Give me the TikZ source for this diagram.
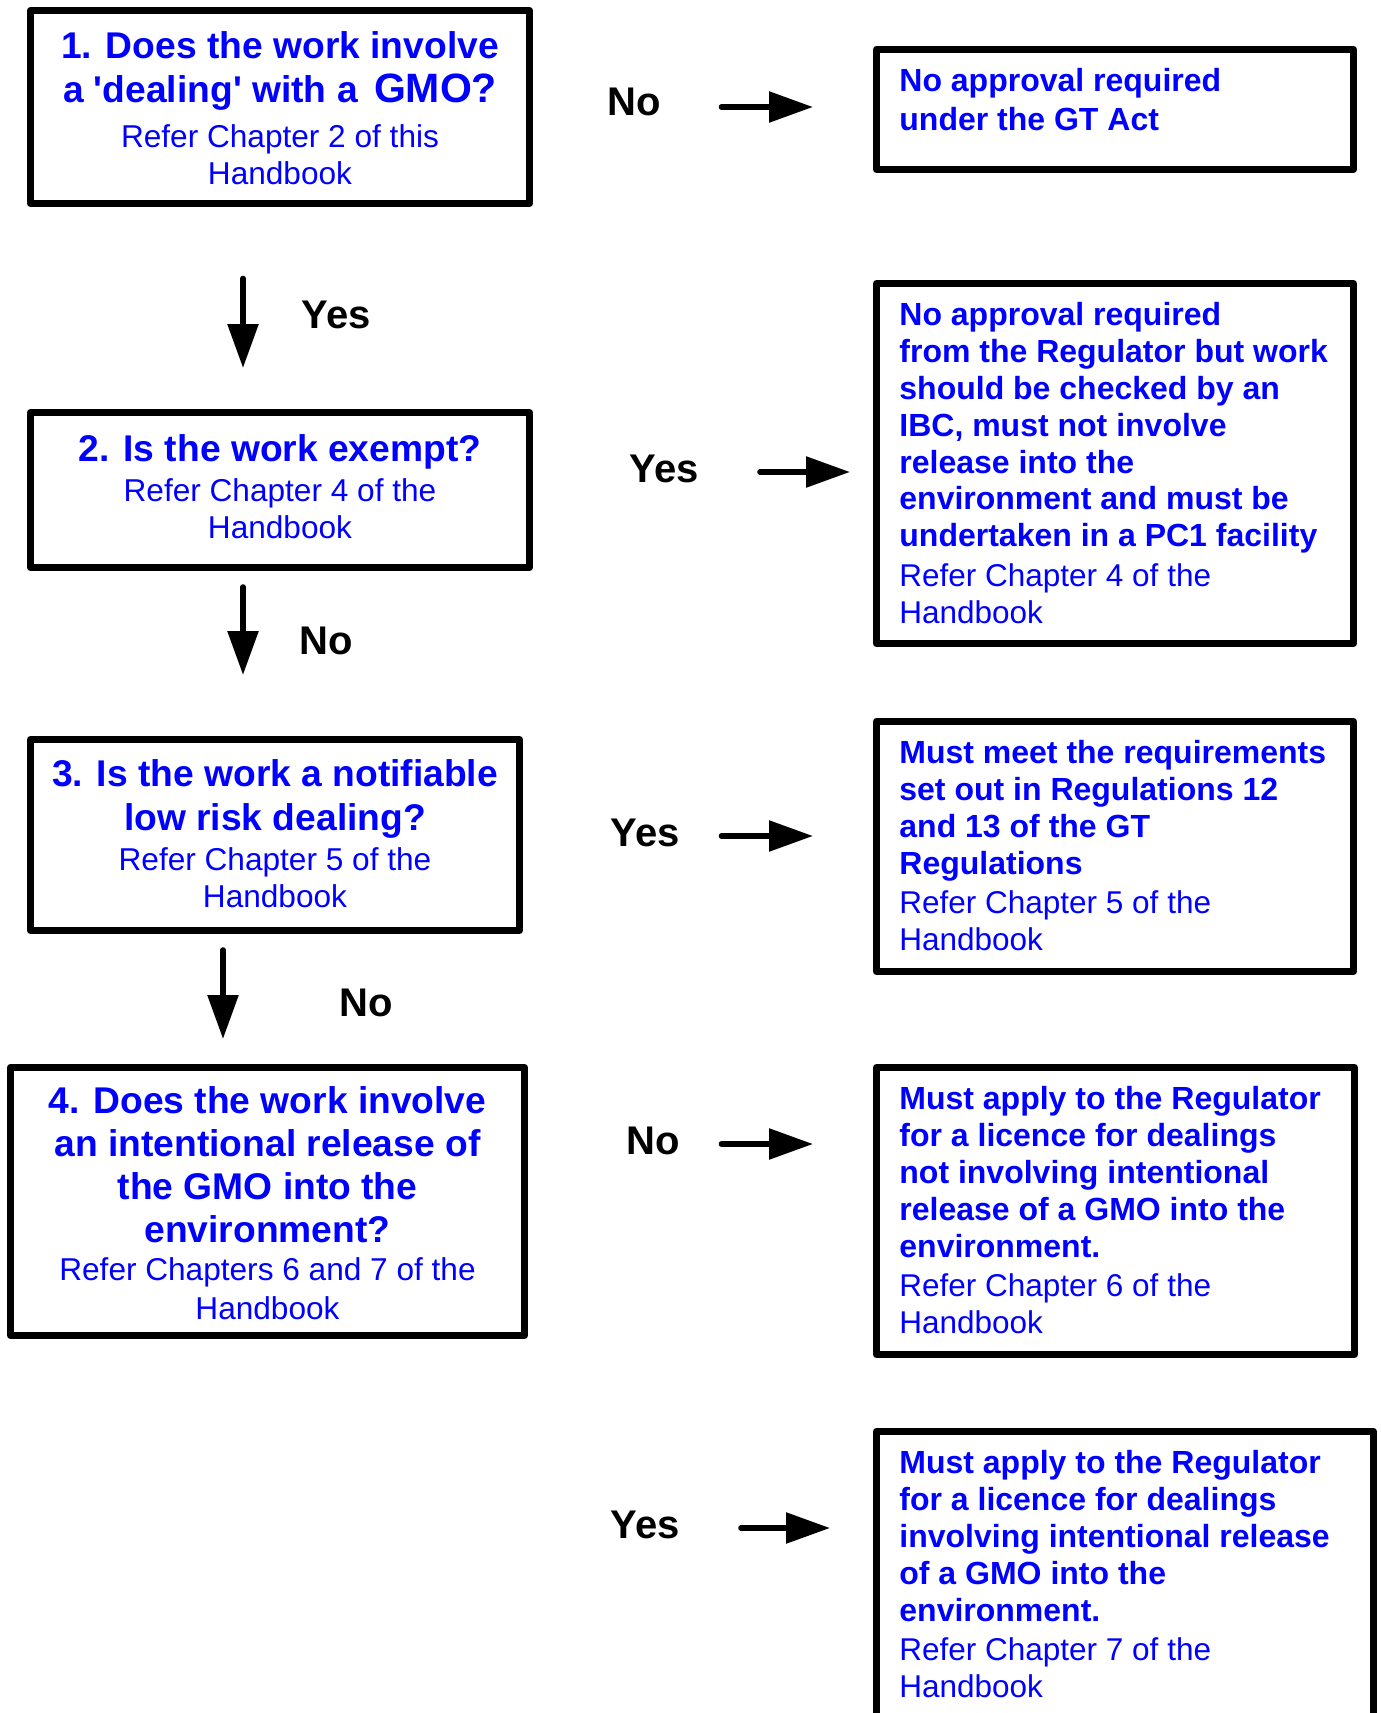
\documentclass[tikz,border=0pt]{standalone}
\usepackage{fontspec}
\newfontfamily\lsans{Liberation Sans}
\usetikzlibrary{arrows.meta}
\definecolor{tblue}{RGB}{0,0,255}
\newcommand\qT[1]{{\fontsize{18.6pt}{0pt}\selectfont\bfseries\rule[-6pt]{0pt}{22pt}#1}}
\newcommand\qTb[1]{{\fontsize{18.6pt}{0pt}\selectfont\bfseries\rule[-6pt]{0pt}{21.6pt}#1}}
\newcommand\qN[1]{{\fontsize{15.8pt}{0pt}\selectfont\rule[-4.3pt]{0pt}{18.5pt}#1}}
\newcommand\rB[1]{{\fontsize{16pt}{0pt}\selectfont\bfseries\rule[-5.4pt]{0pt}{18.4pt}#1}}
\newcommand\rN[1]{{\fontsize{15.75pt}{0pt}\selectfont\rule[-4.2pt]{0pt}{18.5pt}#1}}
\tikzset{
  basefont/.style={font={\lsans\fontsize{10pt}{0pt}\selectfont\lineskip=0pt\lineskiplimit=0pt}},
  qbox/.style={basefont, draw=black, line width=3.5pt, line join=round, inner sep=0pt, align=center, text=tblue},
  rbox/.style={draw=black, line width=3.5pt, line join=round, inner sep=0pt},
  rtext/.style={basefont, inner sep=0pt, align=left, text=tblue, anchor=north west},
  lab/.style={font={\lsans\bfseries\fontsize{20pt}{24pt}\selectfont}, inner sep=0pt, text=black},
  arr/.style={line width=2.8pt, line cap=round, -{Triangle[length=22pt,width=15pt]}}
}
\begin{document}
\begin{tikzpicture}[x=0.5pt,y=-0.5pt]
\useasboundingbox (0,0) rectangle (1381,1713);
\clip (0,0) rectangle (1381,1713);
\fill[white] (0,0) rectangle (1381,1713);

% left question boxes
\node[qbox, minimum width=249.5pt, minimum height=96.5pt] (q1) at (280,107)
  {\qT{\rule{0pt}{18.8pt}1. Does the work involve}\\ \qT{a 'dealing' with a\hspace{3pt} {\fontsize{20.5pt}{0pt}\selectfont GMO?}}\\[2.2pt] \qN{Refer Chapter 2 of this}\\ \qN{Handbook}};
\node[qbox, minimum width=249.5pt, minimum height=77.5pt] (q2) at (280,490)
  {\qT{2. Is the work exempt?}\\ \qN{Refer Chapter 4 of the}\\ \qN{Handbook\rule[-5.9pt]{0pt}{0pt}}};
\node[qbox, minimum width=244.5pt, minimum height=95.5pt] (q3) at (275,835)
  {\qT{3. Is the work a notifiable}\\ \qT{low risk dealing?}\\ \qN{Refer Chapter 5 of the}\\ \qN{Handbook}};
\node[qbox, minimum width=257pt, minimum height=134pt] (q4) at (267.5,1201.5)
  {\qTb{\rule{0pt}{18.9pt}4. Does the work involve}\\ \qTb{an intentional release of}\\ \qTb{the GMO into the}\\ \qTb{environment?}\\[-1.1pt] \qN{Refer Chapters 6 and 7 of the}\\[0.55pt] \qN{Handbook}};

% right result boxes
\node[rbox, minimum width=238.5pt, minimum height=60pt] (r1) at (1115,109.5) {};
\node[rtext] (r1t) at (899,65.5) {\rB{No approval required}\\[1pt] \rB{under the GT Act}};

\node[rbox, minimum width=238.5pt, minimum height=180pt] (r2) at (1115,463.5) {};
\node[rtext] (r2t) at (899,299.5) {\rB{No approval required}\\ \rB{from the Regulator but work}\\ \rB{should be checked by an}\\ \rB{IBC, must not involve}\\ \rB{release into the}\\ \rB{environment and must be}\\ \rB{undertaken in a PC1 facility}\\ \rN{Refer Chapter 4 of the}\\ \rN{Handbook}};

\node[rbox, minimum width=238.5pt, minimum height=125pt] (r3) at (1115,846.5) {};
\node[rtext] (r3t) at (899,737.5) {\rB{Must meet the requirements}\\ \rB{set out in Regulations 12}\\ \rB{and 13 of the GT}\\ \rB{Regulations}\\ \rN{Refer Chapter 5 of the}\\ \rN{Handbook}};

\node[rbox, minimum width=239pt, minimum height=143.5pt] (r4) at (1115.5,1211) {};
\node[rtext] (r4t) at (899,1083.5) {\rB{Must apply to the Regulator}\\ \rB{for a licence for dealings}\\ \rB{not involving intentional}\\ \rB{release of a GMO into the}\\ \rB{environment.}\\ \rN{Refer Chapter 6 of the}\\ \rN{Handbook}};

\node[rbox, minimum width=248.5pt, minimum height=164.25pt] (r5) at (1125,1595.75) {};
\node[rtext] (r5t) at (899,1447.5) {\rB{Must apply to the Regulator}\\ \rB{for a licence for dealings}\\ \rB{involving intentional release}\\ \rB{of a GMO into the}\\ \rB{environment.}\\ \rN{Refer Chapter 7 of the}\\ \rN{Handbook}};

% labels
\node[lab] (l1) at (634,102) {No};
\node[lab] (l2) at (336,315) {Yes};
\node[lab] (l3) at (664,469) {Yes};
\node[lab] (l4) at (326,641) {No};
\node[lab] (l5) at (645,833) {Yes};
\node[lab] (l6) at (366,1003) {No};
\node[lab] (l7) at (653,1141) {No};
\node[lab] (l8) at (645,1525) {Yes};

% arrows
\coordinate (h1s) at (721.5,107);  \coordinate (h1e) at (813,107);
\coordinate (d1s) at (243,278.5);  \coordinate (d1e) at (243,368);
\coordinate (h2s) at (760,472);    \coordinate (h2e) at (850,472);
\coordinate (d2s) at (243,587);    \coordinate (d2e) at (243,675);
\coordinate (h3s) at (721.5,836);  \coordinate (h3e) at (813,836);
\coordinate (d3s) at (223,950);    \coordinate (d3e) at (223,1039);
\coordinate (h4s) at (721.5,1144); \coordinate (h4e) at (813,1144);
\coordinate (h5s) at (741,1528);   \coordinate (h5e) at (830,1528);
\draw[arr] (h1s) -- (h1e);
\draw[arr] (d1s) -- (d1e);
\draw[arr] (h2s) -- (h2e);
\draw[arr] (d2s) -- (d2e);
\draw[arr] (h3s) -- (h3e);
\draw[arr] (d3s) -- (d3e);
\draw[arr] (h4s) -- (h4e);
\draw[arr] (h5s) -- (h5e);
\end{tikzpicture}
\end{document}
